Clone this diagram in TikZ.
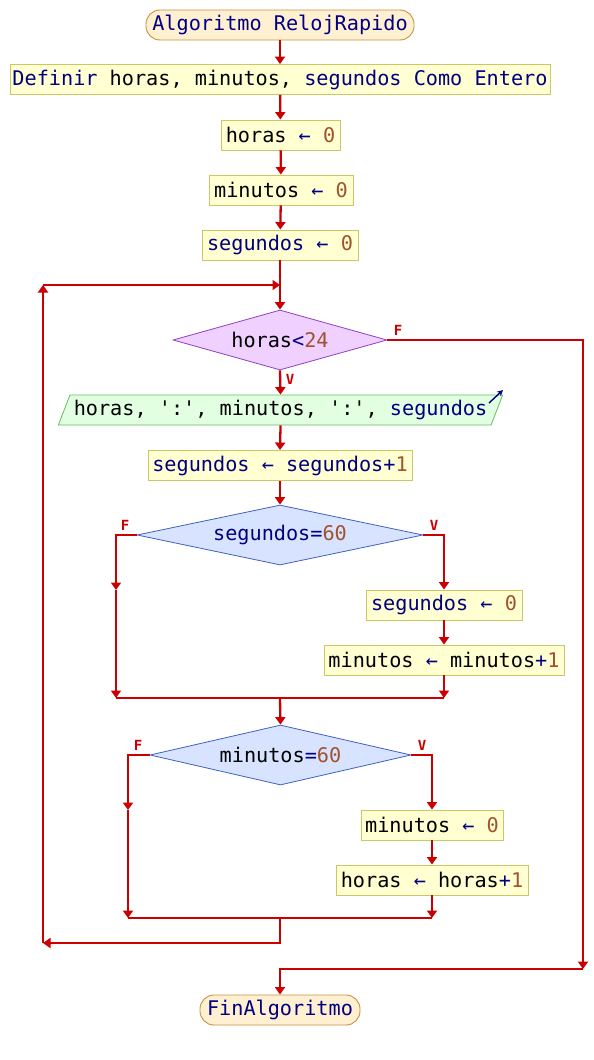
\documentclass[tikz,border=0pt]{standalone}
\usepackage{fontspec}
\usetikzlibrary{arrows.meta,shapes.geometric}
\newfontfamily\psefont{DejaVu Sans Mono}
\definecolor{kwc}{HTML}{000080}
\definecolor{numc}{HTML}{A0522D}
\definecolor{flowc}{HTML}{CC0000}
\definecolor{termfill}{HTML}{FFF0D2}
\definecolor{termdraw}{HTML}{C8903C}
\definecolor{procfill}{HTML}{FFFFD2}
\definecolor{procdraw}{HTML}{C8C864}
\definecolor{d1fill}{HTML}{F0D0FF}
\definecolor{d1draw}{HTML}{9040C0}
\definecolor{d2fill}{HTML}{D8E4FF}
\definecolor{d2draw}{HTML}{4060C0}
\definecolor{iofill}{HTML}{E2FFE2}
\definecolor{iodraw}{HTML}{60C060}
\newcommand{\kw}[1]{\textcolor{kwc}{#1}}
\newcommand{\nm}[1]{\textcolor{numc}{#1}}
\newcommand{\asg}{\kw{←}}
\tikzset{
  base/.style={font=\psefont\fontsize{20.2}{22}\selectfont, inner sep=0pt, text=black},
  term/.style={base, draw=termdraw, fill=termfill, rounded corners=14pt, minimum height=30, line width=0.9pt},
  proc/.style={base, draw=procdraw, fill=procfill, minimum height=30, line width=0.9pt},
  dec1/.style={base, diamond, aspect=3.5, draw=d1draw, fill=d1fill, minimum height=60, line width=0.8pt},
  dec2/.style={base, diamond, aspect=4.5, draw=d2draw, fill=d2fill, minimum height=60, line width=0.8pt},
  io/.style={base, trapezium, trapezium left angle=60, trapezium right angle=120, trapezium stretches=true, draw=iodraw, fill=iofill, minimum height=30, line width=0.8pt},
  flow/.style={draw=flowc, line width=2.3pt},
  tip/.style={-{Triangle[width=10pt,length=7.5pt]}},
  lbl/.style={text=flowc, font=\psefont\bfseries\fontsize{14}{16}\selectfont, inner sep=0pt}
}
\begin{document}
\begin{tikzpicture}[x=1pt,y=-1pt]
\useasboundingbox (0,0) rectangle (594,1060);
\node[term, minimum width=268] (start) at (280,25) {\kw{Algoritmo RelojRapido}};
\node[proc, minimum width=540] (def) at (280,79.5) {\kw{Definir} horas, minutos, \kw{segundos Como Entero}};
\node[proc, minimum width=119] (h0) at (280.5,135) {horas \asg{} \nm{0}};
\node[proc, minimum width=144] (m0) at (281,190) {minutos \asg{} \nm{0}};
\node[proc, minimum width=156] (s0) at (280,245) {\kw{segundos} \asg{} \nm{0}};
\node[dec1, minimum width=214] (d1) at (280,340) {horas\kw{<}\nm{24}};
\node[io, minimum width=445] (out) at (280.5,410) {horas, ':', minutos, ':', \kw{segundos}};
\node[proc, minimum width=264] (s1) at (280,465.5) {\kw{segundos} \asg{} \kw{segundos+}\nm{1}};
\node[dec2, minimum width=286] (d2) at (280,535) {\kw{segundos=}\nm{60}};
\node[proc, minimum width=156] (s2) at (444,605) {\kw{segundos} \asg{} \nm{0}};
\node[proc, minimum width=240] (m1) at (444,660) {minutos \asg{} minutos\kw{+}\nm{1}};
\node[dec2, minimum width=261] (d3) at (280.5,755) {minutos\kw{=}\nm{60}};
\node[proc, minimum width=142] (m2) at (432,825) {minutos \asg{} \nm{0}};
\node[proc, minimum width=192] (h1) at (432,880) {horas \asg{} horas\kw{+}\nm{1}};
\node[term, minimum width=160] (end) at (280,1010) {\kw{FinAlgoritmo}};
% output icon
\draw[kwc, line width=1.4pt, -{Stealth[length=6pt,width=6pt]}] (489,403) -- (503,390);
% labels
\node[lbl] (f1) at (398,330) {F};
\node[lbl] (v1) at (290,379) {V};
\node[lbl] (f2) at (125,525) {F};
\node[lbl] (v2) at (434,525) {V};
\node[lbl] (f3) at (138,745) {F};
\node[lbl] (v3) at (422,745) {V};
% coordinates
\coordinate (loopin) at (280,285);
\coordinate (exitR) at (583,969);
\coordinate (d2Fa) at (116,590);
\coordinate (j1L) at (116,698);
\coordinate (j1R) at (444,698);
\coordinate (j1M) at (280,698);
\coordinate (d3Fa) at (128,810);
\coordinate (j2L) at (128,918);
\coordinate (j2R) at (432,918);
\coordinate (j2M) at (280,918);
\coordinate (backB) at (43,943);
\coordinate (backT) at (43,285);
% connectors
\draw[flow,tip] (start) -- (def);
\draw[flow,tip] (def) -- (h0);
\draw[flow,tip] (h0) -- (m0);
\draw[flow,tip] (m0) -- (s0);
\draw[flow,tip] (s0) -- (d1);
\draw[flow,tip] (d1.east) -| (exitR);
\draw[flow,tip] (exitR) -- (280,969) -- (end.north);
\draw[flow,tip] (d1.south) -- (out.north);
\draw[flow,tip] (out.south) -- (s1.north);
\draw[flow,tip] (s1) -- (d2);
\draw[flow,tip] (d2.west) -| (d2Fa);
\draw[flow,tip] (d2Fa) -- (j1L);
\draw[flow,tip] (d2.east) -| (s2.north);
\draw[flow,tip] (s2) -- (m1);
\draw[flow,tip] (m1.south) -- (j1R);
\draw[flow] (j1L) -- (j1R);
\draw[flow,tip] (j1M) -- (d3.north);
\draw[flow,tip] (d3.west) -| (d3Fa);
\draw[flow,tip] (d3Fa) -- (j2L);
\draw[flow,tip] (d3.east) -| (m2.north);
\draw[flow,tip] (m2) -- (h1);
\draw[flow,tip] (h1.south) -- (j2R);
\draw[flow] (j2L) -- (j2R);
\draw[flow,tip] (j2M) -- (280,943) -- (backB);
\draw[flow,tip] (backB) -- (backT);
\draw[flow,tip] (backT) -- (loopin);
\end{tikzpicture}
\end{document}
